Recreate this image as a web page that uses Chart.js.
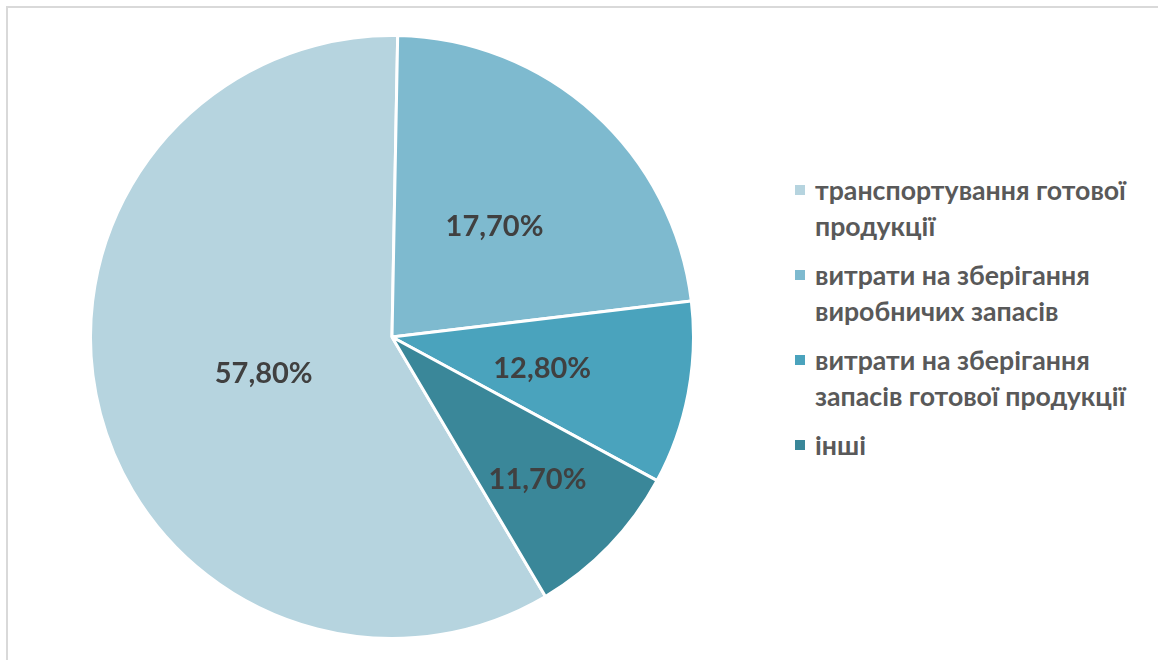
<!DOCTYPE html>
<html>
<head>
<meta charset="utf-8">
<script src="https://cdn.jsdelivr.net/npm/chart.js@4.4.1/dist/chart.umd.min.js"></script>
<style>
  html, body { margin: 0; padding: 0; background: #fff; }
  body { width: 1158px; height: 660px; position: relative; overflow: hidden; }
  #frame { position: absolute; left: 6px; top: 6px; width: 1200px; height: 700px;
           border-left: 2px solid #D9D9D9; border-top: 2px solid #D9D9D9; box-sizing: border-box; }
  #wrap { position: absolute; left: 89px; top: 34px; width: 606px; height: 606px; }
  #legend { position: absolute; left: 795px; top: 172px; font-family: Lato, "Open Sans", sans-serif;
            font-weight: 700; font-size: 26.7px; color: #595959; }
  .item { position: relative; padding-left: 20px; line-height: 36px; margin-bottom: 13px; white-space: nowrap; }
  .sw { position: absolute; left: 0; top: 13px; width: 10px; height: 10px; }
</style>
</head>
<body>
<div id="frame"></div>
<div id="wrap"><canvas id="c"></canvas></div>
<div id="legend"></div>
<script>
// Categories (legend lines as shown)
const categories = [
  ["транспортування готової", "продукції"],
  ["витрати на зберігання", "виробничих запасів"],
  ["витрати на зберігання", "запасів готової продукції"],
  ["інші"]
];
// Slice sizes as drawn in the picture (percent of circle)
const sliceValues = [58.8, 22.8, 9.8, 8.6];
// Data label texts as printed on the slices
const labelTexts = ["57,80%", "17,70%", "12,80%", "11,70%"];
const colors = ["#B6D4DF", "#7EBACF", "#4AA3BD", "#3A8799"];
const labelRadius = [0.44, 0.507, 0.507, 0.67];

const sliceLabels = {
  id: 'sliceLabels',
  afterDatasetsDraw(chart) {
    const ctx = chart.ctx;
    const meta = chart.getDatasetMeta(0);
    ctx.save();
    ctx.font = '700 29px Lato, "Open Sans", sans-serif';
    ctx.fillStyle = '#404040';
    ctx.textAlign = 'center';
    ctx.textBaseline = 'middle';
    meta.data.forEach((arc, i) => {
      const p = arc.getProps(['x', 'y', 'startAngle', 'endAngle', 'outerRadius'], true);
      const mid = (p.startAngle + p.endAngle) / 2;
      const r = p.outerRadius * labelRadius[i];
      ctx.fillText(labelTexts[i], p.x + Math.cos(mid) * r, p.y + Math.sin(mid) * r + 3);
    });
    ctx.restore();
  }
};

new Chart(document.getElementById('c'), {
  type: 'pie',
  data: {
    labels: categories,
    datasets: [{
      data: sliceValues,
      backgroundColor: colors,
      borderColor: '#ffffff',
      borderWidth: 3
    }]
  },
  options: {
    responsive: true,
    maintainAspectRatio: false,
    animation: false,
    rotation: 149.4,
    layout: { padding: 0 },
    plugins: { legend: { display: false }, tooltip: { enabled: false } }
  },
  plugins: [sliceLabels]
});

const lg = document.getElementById('legend');
categories.forEach((lines, i) => {
  const d = document.createElement('div');
  d.className = 'item';
  const sw = document.createElement('span');
  sw.className = 'sw';
  sw.style.background = colors[i];
  d.appendChild(sw);
  lines.forEach((ln, j) => {
    if (j) d.appendChild(document.createElement('br'));
    d.appendChild(document.createTextNode(ln));
  });
  lg.appendChild(d);
});
</script>
</body>
</html>
